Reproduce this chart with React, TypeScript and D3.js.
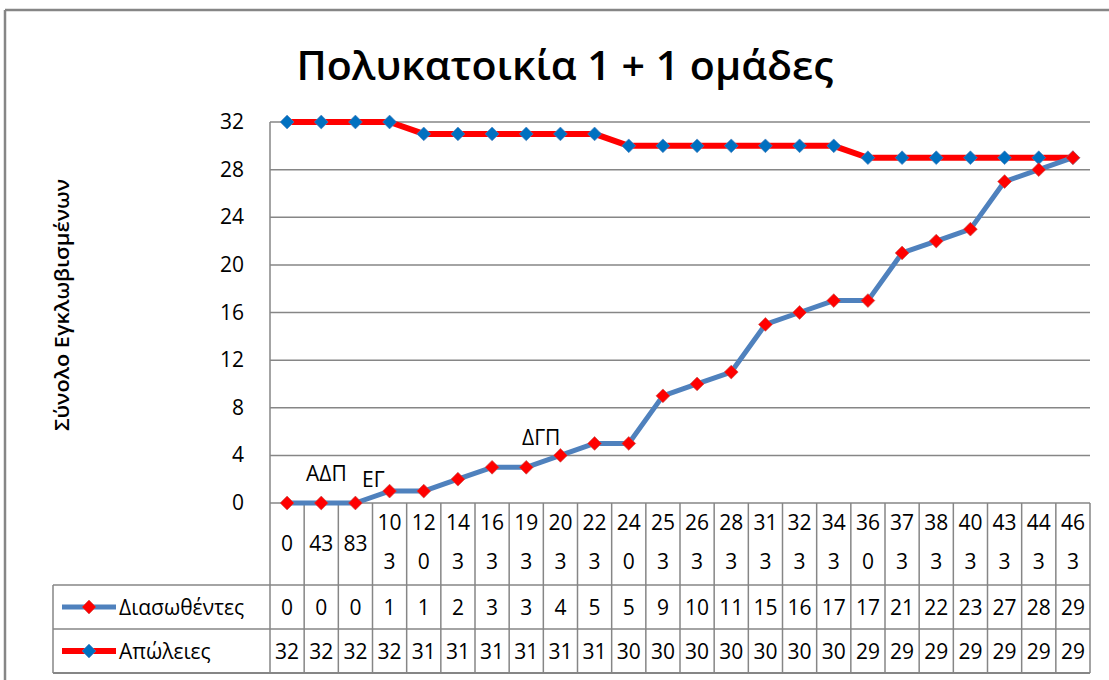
import React from "react";
import * as d3 from "d3";

const categories = ["0", "43", "83", "103", "120", "143", "163", "193", "203", "223", "240", "253", "263", "283", "313", "323", "343", "360", "373", "383", "403", "433", "443", "463"];
const rescued = [0, 0, 0, 1, 1, 2, 3, 3, 4, 5, 5, 9, 10, 11, 15, 16, 17, 17, 21, 22, 23, 27, 28, 29];
const losses = [32, 32, 32, 32, 31, 31, 31, 31, 31, 31, 30, 30, 30, 30, 30, 30, 30, 29, 29, 29, 29, 29, 29, 29];
const yTicks = [0, 4, 8, 12, 16, 20, 24, 28, 32];
const seriesNames = ["Διασωθέντες", "Απώλειες"];
const annotations = [
  { text: "ΑΔΠ", index: 1, value: 0 },
  { text: "ΕΓ", index: 2, value: 0 },
  { text: "ΔΓΠ", index: 8, value: 4 },
];

const W = 1109;
const H = 680;
const FONT = "'Open Sans', 'Noto Sans', sans-serif";
const GRID = "#868686";
const BLUE = "#4F81BD";
const RED = "#FF0000";
const MARKER_BLUE = "#0070C0";

export default function App() {
  const left = 270, right = 1090, top = 122, bottom = 503;
  const x = d3.scaleBand<number>().domain(categories.map((_, i) => i)).range([left, right]).padding(0);
  const y = d3.scaleLinear().domain([0, 32]).range([bottom, top]);
  const cx = (i: number) => (x(i) as number) + x.bandwidth() / 2;
  const line = d3.line<number>().x((_, i) => cx(i)).y((d) => y(d));
  const diamond = d3.symbol().type(d3.symbolSquare).size(95)() as string;

  const catRowBottom = 585;
  const row1Bottom = 629;
  const row2Bottom = 673;
  const legendLeft = 53;

  const splitLabel = (s: string) => (s.length > 2 ? [s.slice(0, 2), s.slice(2)] : [s]);

  const series = [
    { name: seriesNames[0], values: rescued, stroke: BLUE, width: 5, marker: RED, mstroke: "#C0504D" },
    { name: seriesNames[1], values: losses, stroke: RED, width: 6, marker: MARKER_BLUE, mstroke: BLUE },
  ];

  return (
    <svg width={W} height={H} style={{ position: "absolute", left: 0, top: 0, background: "#fff" }} fontFamily={FONT}>
      <rect x={0} y={0} width={W} height={H} fill="#fff" />
      {/* outer chart border */}
      <line x1={5} y1={10} x2={W} y2={10} stroke={GRID} strokeWidth={2.5} />
      <line x1={5} y1={10} x2={5} y2={H} stroke={GRID} strokeWidth={2.5} />

      {/* title */}
      <text x={565} y={80} textAnchor="middle" fontSize={40} fontWeight="600" fill="#000" textLength={537} lengthAdjust="spacingAndGlyphs">
        Πολυκατοικία 1 + 1 ομάδες
      </text>

      {/* y axis title */}
      <text transform={`translate(69,305) rotate(-90)`} textAnchor="middle" fontSize={20} fontWeight="600" fill="#000" textLength={252} lengthAdjust="spacingAndGlyphs">
        Σύνολο Εγκλωβισμένων
      </text>

      {/* gridlines */}
      {yTicks.filter((t) => t > 0).map((t) => (
        <line key={t} x1={left} x2={right} y1={y(t)} y2={y(t)} stroke={GRID} strokeWidth={1.5} />
      ))}
      {/* y axis */}
      <line x1={left} x2={left} y1={top} y2={row2Bottom} stroke={GRID} strokeWidth={1.5} />
      {yTicks.map((t) => (
        <text key={t} x={244} y={y(t) + 7} textAnchor="end" fontSize={21} fill="#000">{t}</text>
      ))}

      {/* data table */}
      <line x1={left} x2={right} y1={bottom} y2={bottom} stroke={GRID} strokeWidth={1.5} />
      <line x1={legendLeft} x2={right} y1={catRowBottom} y2={catRowBottom} stroke={GRID} strokeWidth={1.5} />
      <line x1={legendLeft} x2={right} y1={row1Bottom} y2={row1Bottom} stroke={GRID} strokeWidth={1.5} />
      <line x1={legendLeft} x2={right} y1={row2Bottom} y2={row2Bottom} stroke={GRID} strokeWidth={2} />
      <line x1={legendLeft} x2={legendLeft} y1={catRowBottom} y2={row2Bottom} stroke={GRID} strokeWidth={1.5} />
      {categories.map((_, i) => (
        <line key={i} x1={(x(i) as number) + x.bandwidth()} x2={(x(i) as number) + x.bandwidth()} y1={bottom} y2={row2Bottom} stroke={GRID} strokeWidth={1.5} />
      ))}
      {categories.map((c, i) => {
        const parts = splitLabel(c);
        return parts.length === 1 ? (
          <text key={i} x={cx(i)} y={551} textAnchor="middle" fontSize={21} fill="#000">{c}</text>
        ) : (
          <g key={i}>
            <text x={cx(i)} y={530} textAnchor="middle" fontSize={21} fill="#000">{parts[0]}</text>
            <text x={cx(i)} y={569} textAnchor="middle" fontSize={21} fill="#000">{parts[1]}</text>
          </g>
        );
      })}
      {series.map((s, r) => {
        const rowY = r === 0 ? 615 : 659;
        const midY = r === 0 ? 607 : 651;
        return (
          <g key={s.name}>
            <line x1={62} x2={116} y1={midY} y2={midY} stroke={s.stroke} strokeWidth={s.width} />
            <path d={diamond} transform={`translate(89,${midY}) rotate(45)`} fill={s.marker} stroke={s.mstroke} strokeWidth={0.6} />
            <text x={119} y={rowY} fontSize={21} fill="#000">{s.name}</text>
            {s.values.map((v, i) => (
              <text key={i} x={cx(i)} y={rowY} textAnchor="middle" fontSize={21} fill="#000">{v}</text>
            ))}
          </g>
        );
      })}

      {/* series lines and markers */}
      {series.slice().reverse().map((s) => (
        <g key={s.name}>
          <path d={line(s.values) as string} fill="none" stroke={s.stroke} strokeWidth={s.width} strokeLinejoin="round" />
          {s.values.map((v, i) => (
            <path key={i} d={diamond} transform={`translate(${cx(i)},${y(v)}) rotate(45)`} fill={s.marker} stroke={s.mstroke} strokeWidth={0.6} />
          ))}
        </g>
      ))}

      {/* annotations */}
      <text x={306} y={481} fontSize={21} fill="#000">{annotations[0].text}</text>
      <text x={362} y={487} fontSize={21} fill="#000">{annotations[1].text}</text>
      <text x={522} y={445} fontSize={21} fill="#000">{annotations[2].text}</text>
    </svg>
  );
}
